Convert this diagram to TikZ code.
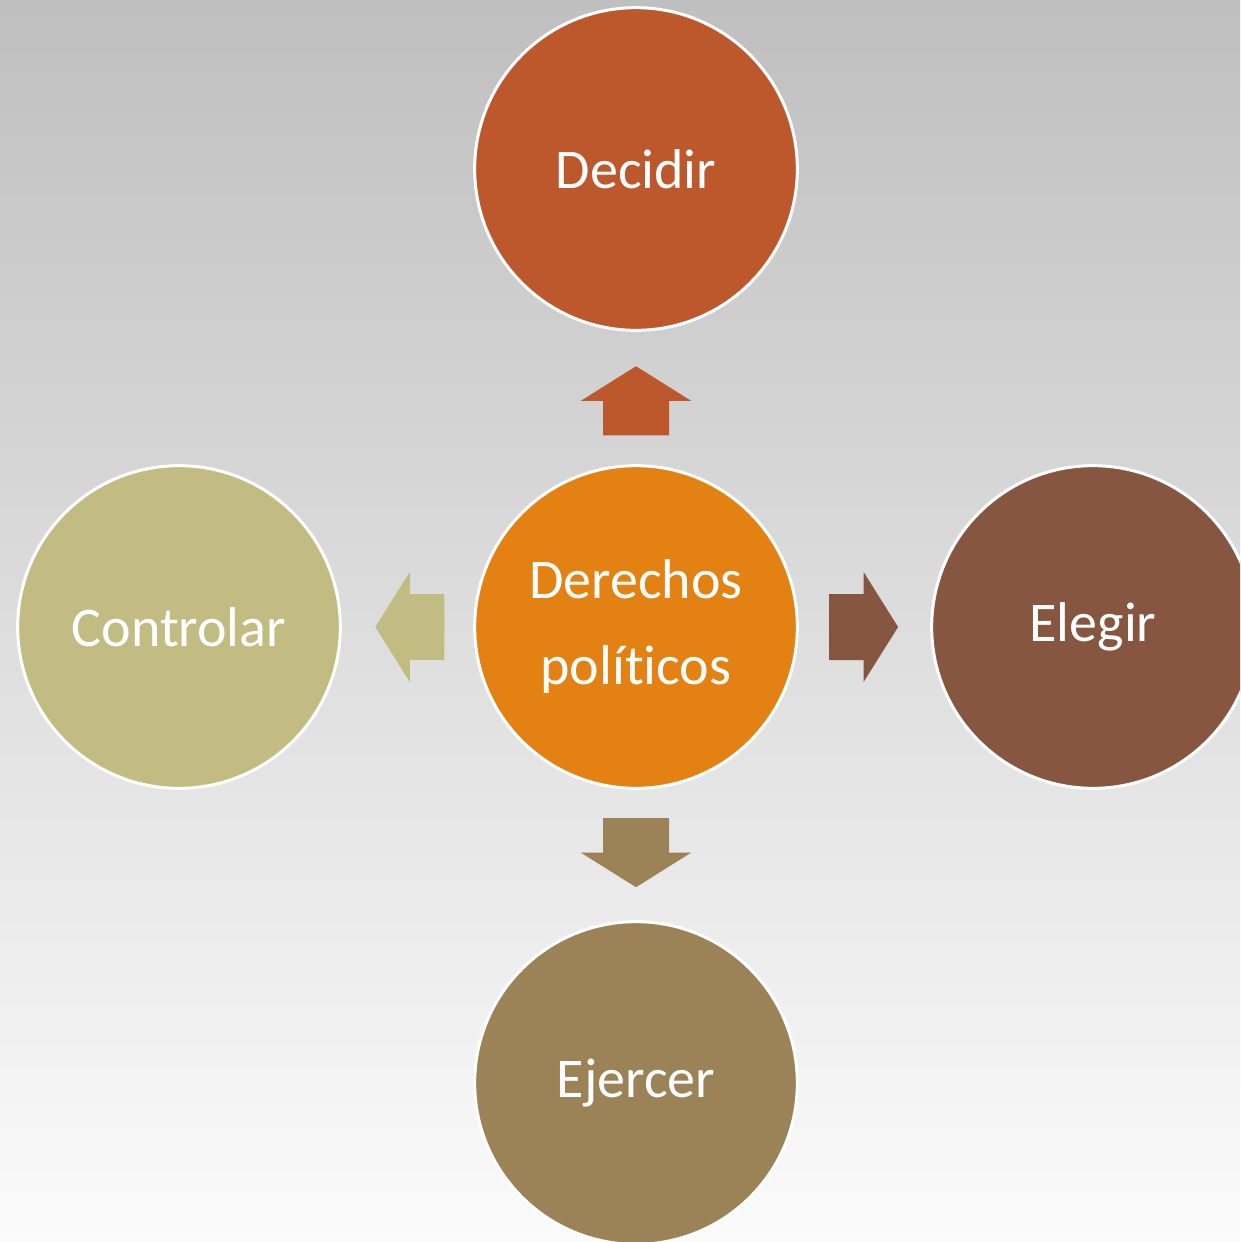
\documentclass[tikz,border=0pt]{standalone}
\usepackage{fontspec}
\setmainfont{Carlito}[Ligatures=NoCommon]
\usetikzlibrary{calc}
\definecolor{bgtop}{RGB}{191,191,191}
\definecolor{bgbot}{RGB}{251,251,251}
\definecolor{cdecidir}{RGB}{188,88,44}
\definecolor{ccenter}{RGB}{227,130,19}
\definecolor{ccontrolar}{RGB}{195,188,130}
\definecolor{celegir}{RGB}{135,86,65}
\definecolor{cejercer}{RGB}{156,131,87}
\begin{document}
\begin{tikzpicture}[x=0.75pt,y=-0.75pt,
  bubble/.style={circle,draw=white,line width=2.25pt,minimum size=242pt,inner sep=0pt,
    text=white,font=\fontsize{42pt}{64.5pt}\selectfont,align=center},
  barrow/.pic={\fill (-34.5,-33) -- (0,-33) -- (0,-55) -- (34.5,0) -- (0,55) -- (0,33) -- (-34.5,33) -- cycle;}]
\useasboundingbox (0,0) rectangle (1240,1242);
\clip (0,0) rectangle (1240,1242);
\shade[top color=bgtop,bottom color=bgbot] (0,0) rectangle (1240,1242);
\node[bubble,fill=ccenter] (c) at (636,627) {Derechos\\polít\kern0pt icos};
\node[bubble,fill=cdecidir] (n) at (636,169) {Decidir};
\node[bubble,fill=ccontrolar] (w) at (179,627) {Controlar};
\node[bubble,fill=celegir] (e) at (1093,627) {Elegir};
\node[bubble,fill=cejercer] (s) at (636,1083) {Ejercer};
\pic[cdecidir,rotate=90] at ($(c)!0.494!(n)$) {barrow};
\pic[celegir] at ($(c)!0.498!(e)$) {barrow};
\pic[ccontrolar,rotate=180] at ($(c)!0.495!(w)$) {barrow};
\pic[cejercer,rotate=-90] at ($(c)!0.495!(s)$) {barrow};
\end{tikzpicture}
\end{document}
